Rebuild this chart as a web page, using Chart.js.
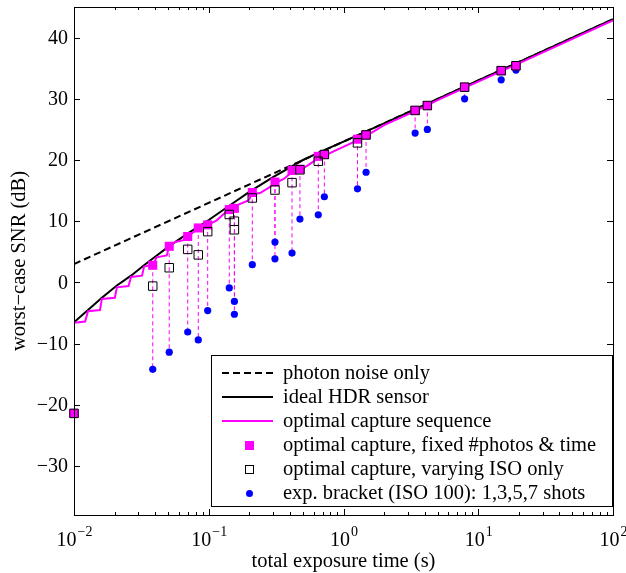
<!DOCTYPE html>
<html>
<head>
<meta charset="utf-8">
<script src="https://cdn.jsdelivr.net/npm/chart.js@4.4.1/dist/chart.umd.min.js"></script>
<style>
  html, body { margin: 0; padding: 0; background: #fff; }
</style>
</head>
<body>
<canvas id="snrChart" width="626" height="573"></canvas>
<script>
// photon noise only (dashed)
const photonTime = [0.01, 100];
const photonSnr = [3, 43];

// ideal HDR sensor
const idealTime = [0.01, 0.0127, 0.0161, 0.0208, 0.0265, 0.0331, 0.04, 0.05, 0.07, 0.1, 0.15, 0.2, 0.3, 0.5, 0.7, 1, 2, 5, 10, 20, 50, 100];
const idealSnr = [-6.5, -4.5, -2.5, -0.5, 1.1, 2.8, 4.2, 5.8, 8.0, 10.2, 12.9, 14.8, 17.2, 20.0, 21.5, 23.0, 26.0, 30.0, 33.0, 36.0, 40.0, 43.0];

// optimal capture sequence (staircase)
const seqTime = [0.01, 0.0121, 0.0127, 0.0156, 0.0161, 0.0201, 0.0208, 0.0254, 0.0265, 0.032, 0.0331, 0.0386, 0.041, 0.0488, 0.0509, 0.0563, 0.0648, 0.0698, 0.0768, 0.0836, 0.0982, 0.114, 0.131, 0.142, 0.155, 0.166, 0.197, 0.2105, 0.24, 0.28, 0.31, 0.36, 0.415, 0.475, 0.55, 0.65, 0.721, 0.9, 1.27, 1.47, 2, 3.4, 5, 10, 20, 50, 100];
const seqSnr = [-6.6, -6.4, -4.7, -4.5, -2.7, -2.5, -0.8, -0.6, 0.9, 1.1, 2.6, 2.9, 4.1, 4.4, 5.9, 6.6, 6.9, 7.5, 8.2, 8.9, 9.4, 10.1, 11.3, 11.9, 12.1, 12.7, 13.4, 14.4, 14.6, 15.5, 16.2, 16.9, 18.0, 18.3, 19.2, 20.3, 20.7, 21.7, 23.2, 23.9, 25.7, 28.0, 29.8, 32.8, 35.8, 39.8, 42.8];

// optimal capture, fixed #photos & time
const fixedTime = [0.01, 0.0384, 0.0509, 0.0698, 0.0836, 0.0982, 0.142, 0.155, 0.2105, 0.31, 0.415, 0.475, 0.65, 0.721, 1.27, 1.47, 3.4, 4.19, 7.92, 14.8, 19.05];
const fixedSnr = [-21.4, 2.8, 5.9, 7.5, 8.9, 9.4, 11.9, 12.1, 14.7, 16.4, 18.3, 18.5, 20.6, 20.9, 23.4, 24.1, 28.1, 28.9, 31.9, 34.6, 35.4];

// optimal capture, varying ISO only
const isoTime = [0.01, 0.0384, 0.0509, 0.0698, 0.0836, 0.0982, 0.142, 0.155, 0.155, 0.2105, 0.31, 0.415, 0.475, 0.65, 0.721, 1.27, 1.47, 3.4, 4.19, 7.92, 14.8, 19.05];
const isoSnr = [-21.4, -0.6, 2.4, 5.4, 4.5, 8.3, 11.1, 10.0, 8.6, 13.8, 15.1, 16.3, 18.4, 19.8, 20.9, 22.8, 24.1, 28.1, 28.9, 31.9, 34.6, 35.4];

// exp. bracket (ISO 100)
const bracketTime = [0.0384, 0.0509, 0.0698, 0.0836, 0.0982, 0.142, 0.155, 0.155, 0.2105, 0.31, 0.31, 0.415, 0.475, 0.65, 0.721, 1.27, 1.47, 3.4, 4.19, 7.92, 14.8, 19.05];
const bracketSnr = [-14.2, -11.4, -8.1, -9.4, -4.6, -0.9, -3.1, -5.2, 2.9, 3.85, 6.6, 4.8, 10.35, 11.05, 14.0, 15.3, 18.0, 24.4, 25.0, 30.0, 33.1, 34.7];

const xTickExps = [-2, -1, 0, 1, 2];
const yTicks = [-30, -20, -10, 0, 10, 20, 30, 40];
const legendLabels = [
  "photon noise only",
  "ideal HDR sensor",
  "optimal capture sequence",
  "optimal capture, fixed #photos & time",
  "optimal capture, varying ISO only",
  "exp. bracket (ISO 100): 1,3,5,7 shots"
];

const FONT = "'Liberation Serif', 'Times New Roman', serif";
const MAGENTA = "#ff00ff";
const BLUE = "#0000ff";

function pts(xs, ys) {
  return xs.map((x, i) => ({ x: x, y: ys[i] }));
}

// dashed stems from the magenta square down to each bracket dot
const stems = [];
bracketTime.forEach((t, i) => {
  const j = fixedTime.indexOf(t);
  stems.push({ x: t, y: fixedSnr[j] }, { x: t, y: bracketSnr[i] }, { x: t, y: null });
});

const framePlugin = {
  id: "frame",
  afterDraw(chart) {
    const ctx = chart.ctx;
    const a = chart.chartArea;
    const xs = chart.scales.x, ys = chart.scales.y;
    ctx.save();
    ctx.strokeStyle = "#000";
    ctx.lineWidth = 1;
    ctx.strokeRect(Math.round(a.left) + 0.5, Math.round(a.top) + 0.5, Math.round(a.right - a.left), Math.round(a.bottom - a.top));

    // x ticks (major + minor), bottom and top, pointing inward
    ctx.beginPath();
    for (let d = -2; d <= 2; d++) {
      for (let m = 1; m <= 9; m++) {
        const v = m * Math.pow(10, d);
        if (v > 100.0001) break;
        const px = Math.round(xs.getPixelForValue(v)) + 0.5;
        const len = m === 1 ? 6 : 3;
        ctx.moveTo(px, a.bottom); ctx.lineTo(px, a.bottom - len);
        ctx.moveTo(px, a.top); ctx.lineTo(px, a.top + len);
      }
    }
    yTicks.forEach(v => {
      const py = Math.round(ys.getPixelForValue(v)) + 0.5;
      ctx.moveTo(a.left, py); ctx.lineTo(a.left + 6, py);
      ctx.moveTo(a.right, py); ctx.lineTo(a.right - 6, py);
    });
    ctx.stroke();

    // tick labels
    ctx.fillStyle = "#000";
    ctx.font = "20px " + FONT;
    ctx.textAlign = "right";
    ctx.textBaseline = "middle";
    yTicks.forEach(v => {
      const txt = v < 0 ? "\u2212" + Math.abs(v) : String(v);
      ctx.fillText(txt, 68, ys.getPixelForValue(v) + 1);
    });
    ctx.textBaseline = "alphabetic";
    ctx.textAlign = "left";
    xTickExps.forEach(e => {
      const base = "10";
      const sup = e < 0 ? "\u2212" + Math.abs(e) : String(e);
      ctx.font = "20px " + FONT;
      const wb = ctx.measureText(base).width;
      ctx.font = "14px " + FONT;
      const ws = ctx.measureText(sup).width;
      const cx = xs.getPixelForValue(Math.pow(10, e));
      const x0 = cx - (wb + ws) / 2;
      ctx.font = "20px " + FONT;
      ctx.fillText(base, x0, 546);
      ctx.font = "14px " + FONT;
      ctx.fillText(sup, x0 + wb + 1, 536);
    });

    // axis titles
    ctx.font = "20.5px " + FONT;
    ctx.textAlign = "center";
    ctx.fillText("total exposure time (s)", (a.left + a.right) / 2, 567);
    ctx.save();
    ctx.translate(25, (a.top + a.bottom) / 2);
    ctx.rotate(-Math.PI / 2);
    ctx.fillText("worst\u2212case SNR (dB)", 0, 0);
    ctx.restore();

    // legend box
    const bx = 211, by = 355, bw = 401, bh = 151;
    ctx.fillStyle = "#fff";
    ctx.fillRect(bx, by, bw, bh);
    ctx.strokeStyle = "#000";
    ctx.lineWidth = 1;
    ctx.strokeRect(bx + 0.5, by + 0.5, bw, bh);
    const rowY = i => 373 + i * 24;
    const l0 = 222, l1 = 273, mx = 249;
    ctx.lineWidth = 2;
    ctx.setLineDash([7, 4]);
    ctx.beginPath(); ctx.moveTo(l0, rowY(0)); ctx.lineTo(l1, rowY(0)); ctx.stroke();
    ctx.setLineDash([]);
    ctx.beginPath(); ctx.moveTo(l0, rowY(1)); ctx.lineTo(l1, rowY(1)); ctx.stroke();
    ctx.strokeStyle = MAGENTA;
    ctx.beginPath(); ctx.moveTo(l0, rowY(2)); ctx.lineTo(l1, rowY(2)); ctx.stroke();
    ctx.fillStyle = MAGENTA;
    ctx.fillRect(mx - 4, rowY(3) - 4, 9, 9);
    ctx.strokeStyle = "#000";
    ctx.lineWidth = 1;
    ctx.strokeRect(mx - 3.5, rowY(4) - 3.5, 8, 8);
    ctx.fillStyle = BLUE;
    ctx.beginPath(); ctx.arc(mx + 0.5, rowY(5) + 0.5, 3.5, 0, Math.PI * 2); ctx.fill();
    ctx.fillStyle = "#000";
    ctx.font = "20.5px " + FONT;
    ctx.textAlign = "left";
    ctx.textBaseline = "middle";
    legendLabels.forEach((t, i) => ctx.fillText(t, 283, rowY(i) + 1));
    ctx.restore();
  }
};

new Chart(document.getElementById("snrChart"), {
  type: "line",
  data: {
    datasets: [
      { data: pts(photonTime, photonSnr), borderColor: "#000", borderWidth: 2, borderDash: [7, 4], pointRadius: 0, order: 6 },
      { data: pts(idealTime, idealSnr), borderColor: "#000", borderWidth: 2, pointRadius: 0, order: 5 },
      { data: pts(seqTime, seqSnr), borderColor: MAGENTA, borderWidth: 2, pointRadius: 0, order: 4 },
      { data: stems, borderColor: MAGENTA, borderWidth: 1, borderDash: [4, 3], pointRadius: 0, spanGaps: false, order: 3 },
      { data: pts(bracketTime, bracketSnr), showLine: false, pointStyle: "circle", pointRadius: 3.6, pointBackgroundColor: BLUE, pointBorderWidth: 0, borderColor: BLUE, order: 2, clip: false },
      { data: pts(fixedTime, fixedSnr), showLine: false, pointStyle: "rect", pointRadius: 6.4, pointBackgroundColor: MAGENTA, pointBorderWidth: 0, borderColor: MAGENTA, order: 1, clip: false },
      { data: pts(isoTime, isoSnr), showLine: false, pointStyle: "rect", pointRadius: 6, pointBackgroundColor: "rgba(0,0,0,0)", pointBorderColor: "#000", pointBorderWidth: 1, borderColor: "#000", order: 0, clip: false }
    ]
  },
  options: {
    responsive: false,
    animation: false,
    devicePixelRatio: 1,
    layout: { padding: { top: 5, right: 13, left: 0, bottom: 0 } },
    plugins: { legend: { display: false }, tooltip: { enabled: false } },
    scales: {
      x: {
        type: "logarithmic", min: 0.01, max: 100,
        grid: { display: false }, border: { display: false }, ticks: { display: false },
        afterFit: s => { s.height = 58; }
      },
      y: {
        min: -38, max: 45,
        grid: { display: false }, border: { display: false }, ticks: { display: false },
        afterFit: s => { s.width = 74; }
      }
    }
  },
  plugins: [framePlugin]
});
</script>
</body>
</html>
